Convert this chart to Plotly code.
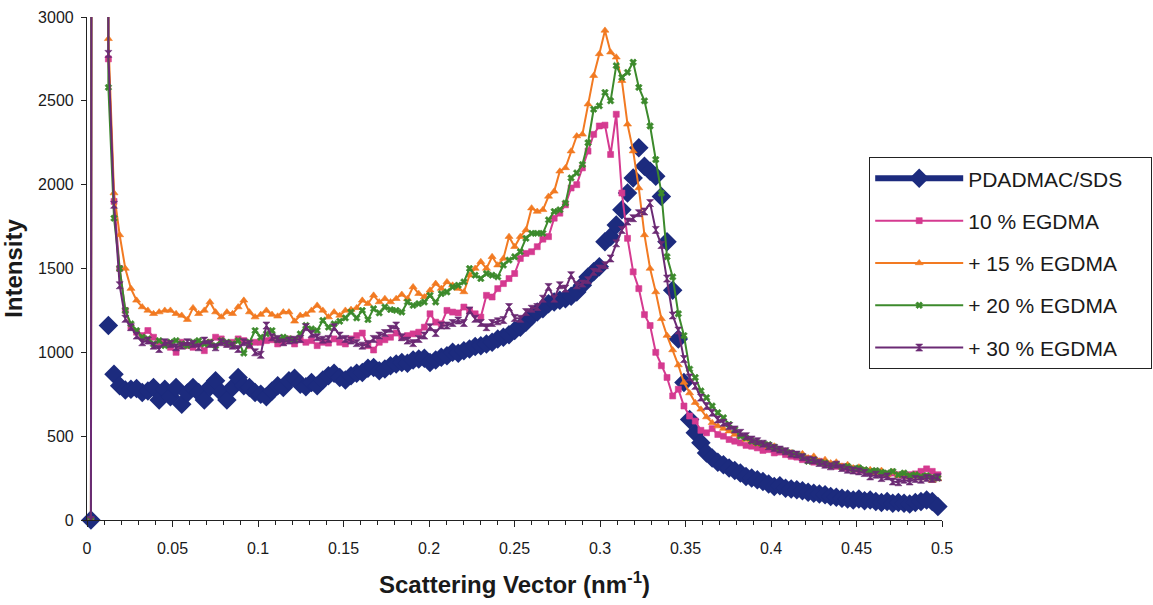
import plotly.graph_objects as go

# Scattering vector grid (nm^-1): first two off-scale points, then a regular grid
Q_LEAD = [0.0023, 0.0073]
Q_START = 0.0125
Q_STEP = 0.0033

BLUE = [
    1160, 870, 800, 775, 780, 785, 760, 770, 790, 715,
    780, 735, 790, 690, 757, 790, 760, 715, 793, 830,
    760, 715, 790, 850, 800, 790, 760, 750, 735, 770,
    800, 790, 830, 845, 810, 795, 820, 800, 835, 860,
    875, 850, 835, 860, 875, 880, 905, 910, 890, 900,
    920, 930, 940, 935, 955, 960, 965, 940, 955, 970,
    980, 1000, 995, 1010, 1020, 1035, 1040, 1050, 1060, 1080,
    1090, 1105, 1130, 1150, 1180, 1215, 1240, 1260, 1290, 1300,
    1310, 1320, 1335, 1360, 1400, 1450, 1480, 1510, 1660, 1690,
    1760, 1850, 1950, 2040, 2220, 2110, 2080, 2050, 1930, 1660,
    1370, 1080, 820, 600, 520, 460, 400, 370, 345, 330,
    310, 295, 280, 260, 250, 240, 230, 215, 200, 205,
    190, 185, 180, 175, 165, 160, 155, 150, 140, 135,
    130, 125, 120, 125, 115, 120, 110, 105, 110, 100,
    105, 100, 95, 105, 110, 120, 110, 80,
]
BLUE_LEAD = [0, None]

PINK = [
    2750, 1900, 1500, 1250, 1150, 1120, 1100, 1130, 1090, 1060,
    1050, 1030, 1000, 1060, 1040, 1030, 1050, 1010, 1060, 1090,
    1080, 1050, 1060, 1080, 1070, 1040, 1060, 1060, 1070, 1075,
    1050, 1060, 1080, 1050, 1075, 1060, 1070, 1040, 1060, 1055,
    1080, 1060, 1050, 1080, 1100, 1115, 1040, 1014, 1060, 1075,
    1090, 1115, 1090, 1100, 1110, 1120, 1150, 1230, 1180, 1170,
    1250, 1240, 1235, 1270, 1250, 1230, 1210, 1340, 1330, 1380,
    1410, 1440, 1470, 1560, 1590, 1600, 1630, 1675, 1690, 1800,
    1830, 1880, 1980, 2000, 2100, 2200, 2300, 2350, 2355, 2180,
    2420, 1950, 1680, 1480, 1380, 1225, 1160, 1000, 920, 850,
    740, 780, 680, 620, 590, 535, 520, 545, 510, 500,
    480, 470, 460, 445, 440, 430, 415, 420, 400, 405,
    390, 380, 375, 360, 365, 345, 350, 335, 330, 320,
    320, 310, 305, 300, 295, 285, 290, 280, 275, 280,
    270, 265, 270, 275, 290, 305, 290, 270,
]
ORANGE = [
    2870, 1950, 1700, 1500, 1380, 1310, 1270, 1250, 1230, 1240,
    1250, 1250, 1230, 1220, 1195, 1265, 1230, 1250, 1300, 1240,
    1210, 1240, 1230, 1270, 1310, 1240, 1210, 1225, 1250, 1225,
    1215, 1240, 1240, 1185, 1220, 1225, 1250, 1280, 1250, 1210,
    1240, 1220, 1250, 1255, 1265, 1310, 1290, 1340, 1300, 1320,
    1300, 1320, 1345, 1320, 1390, 1350, 1330, 1370, 1410, 1380,
    1420, 1400, 1380, 1360, 1460, 1500, 1540, 1500, 1570, 1520,
    1560, 1690, 1630, 1690, 1730, 1860, 1840, 1850, 1930, 1960,
    2080, 2100, 2200, 2290, 2300, 2480, 2650, 2780, 2920, 2790,
    2760, 2620, 2360, 2200, 1980, 1700, 1500, 1360, 1200, 1100,
    1014, 924, 820, 757, 700, 660, 614, 580, 560, 545,
    530, 510, 500, 480, 470, 455, 450, 435, 440, 420,
    410, 400, 390, 395, 370, 380, 350, 360, 340, 345,
    320, 330, 310, 315, 295, 300, 280, 295, 270, 285,
    265, 275, 255, 265, 250, 260, 235, 245,
]
GREEN = [
    2580, 1800, 1500, 1250, 1170, 1130, 1090, 1080, 1050, 1070,
    1040, 1060, 1070, 1050, 1040, 1060, 1070, 1050, 1060, 1040,
    1070, 1060, 1050, 1070, 995, 1060, 1130, 1090, 1110, 1130,
    1075, 1090, 1080, 1075, 1110, 1160, 1140, 1130, 1190, 1150,
    1170, 1185, 1205, 1240, 1205, 1250, 1195, 1260, 1235, 1270,
    1255, 1250, 1240, 1300, 1280, 1290, 1300, 1340, 1300, 1350,
    1360, 1390, 1400, 1420, 1500, 1460, 1440, 1470, 1460, 1450,
    1520, 1550, 1570, 1600, 1680, 1710, 1710, 1710, 1790, 1840,
    1850, 1890, 2040, 2070, 2120, 2250, 2450, 2470, 2550, 2500,
    2710, 2640, 2670, 2730, 2580, 2500, 2350, 2150, 1950, 1570,
    1450, 1230, 1100, 900, 850, 770, 730, 680, 640, 610,
    570, 540, 500, 490, 470, 460, 455, 450, 435, 420,
    410, 400, 390, 380, 350, 360, 345, 340, 325, 330,
    315, 320, 305, 310, 300, 290, 295, 285, 280, 290,
    270, 280, 265, 270, 260, 265, 255, 250,
]
PURPLE = [
    2780, 1880, 1400, 1200, 1150, 1100, 1060, 1070, 1040, 1020,
    1060, 1050, 1030, 1040, 1060, 1050, 1030, 1070, 1050, 1030,
    1060, 1050, 1040, 1020, 1060, 1050, 1000, 985, 1160, 1090,
    1080, 1060, 1070, 1075, 1080, 1150, 1110, 1090, 1075, 1080,
    1150, 1100, 1080, 1070, 1055, 1040, 1050, 1080, 1100, 1115,
    1140, 1160, 1090, 1070, 1055, 1080, 1100, 1150, 1115, 1160,
    1160, 1175, 1190, 1175, 1250, 1200, 1175, 1150, 1175, 1185,
    1193, 1270, 1205, 1200, 1240, 1260, 1270, 1320, 1390, 1320,
    1400, 1380, 1460, 1400, 1410, 1430, 1480, 1500, 1520, 1560,
    1650, 1730, 1780, 1800, 1830, 1840, 1890, 1730, 1640, 1440,
    1220, 1130, 960, 850, 800, 730, 680, 640, 600, 580,
    560, 540, 520, 500, 480, 470, 455, 440, 430, 420,
    410, 395, 390, 375, 360, 355, 340, 330, 320, 330,
    310, 300, 295, 290, 280, 260, 270, 250, 260, 230,
    225, 240, 230, 245, 240, 250, 245, 255,
]
# first point at zero, second far above the axis top (off scale)
LEAD = [0, 60000]

NAMES = ["PDADMAC/SDS", "10 % EGDMA", "+ 15 % EGDMA", "+ 20 % EGDMA", "+ 30 % EGDMA"]
X_TICKS = [0, 0.05, 0.1, 0.15, 0.2, 0.25, 0.3, 0.35, 0.4, 0.45, 0.5]
X_TICK_TEXT = ["0", "0.05", "0.1", "0.15", "0.2", "0.25", "0.3", "0.35", "0.4", "0.45", "0.5"]
Y_TICKS = [0, 500, 1000, 1500, 2000, 2500, 3000]

Q = [round(Q_START + Q_STEP * i, 4) for i in range(len(BLUE))]
XQ = Q_LEAD + Q

BLUE_COL = "#1c2b7e"
fig = go.Figure()
# blue series: diamonds only in the plot area
fig.add_trace(go.Scatter(
    x=XQ, y=BLUE_LEAD + BLUE, name=NAMES[0], mode="markers",
    marker=dict(symbol="diamond", size=15, color=BLUE_COL),
    cliponaxis=False, legendgroup="a", showlegend=False,
))
# legend entry for the blue series (thick line with diamond, as in the reference legend)
fig.add_trace(go.Scatter(
    x=[None], y=[None], name=NAMES[0] + "\u00a0" * 4, mode="lines+markers",
    line=dict(color=BLUE_COL, width=6),
    marker=dict(symbol="diamond", size=15, color=BLUE_COL),
    legendgroup="a",
))
styles = [
    (PINK, NAMES[1], "#d53a90", "square", 6),
    (ORANGE, NAMES[2], "#f27a22", "triangle-up", 7),
    (GREEN, NAMES[3], "#3c8a2c", "x", 6),
    (PURPLE, NAMES[4], "#6b2a74", "hourglass", 7),
]
for k, (vals, name, col, sym, sz) in enumerate(styles):
    fig.add_trace(go.Scatter(
        x=XQ, y=LEAD + vals, name=name, mode="lines+markers",
        line=dict(color=col, width=2),
        marker=dict(symbol=sym, size=sz, color=col, line=dict(width=0.6, color=col)),
        legendgroup="g%d" % k,
    ))

axis_col = "#222222"
fig.update_layout(
    width=1153, height=605,
    margin=dict(l=87, r=211, t=17, b=85, autoexpand=False),
    paper_bgcolor="white", plot_bgcolor="white",
    font=dict(family="Liberation Sans, Arial, sans-serif", color="#1a1a1a"),
    showlegend=True,
    legend=dict(
        x=869 / 1153, y=1 - 157 / 605, xref="container", yref="container",
        xanchor="left", yanchor="top",
        bordercolor=axis_col, borderwidth=1.2, bgcolor="white",
        font=dict(size=21, color="#1a1a1a"),
        itemwidth=88, tracegroupgap=12, traceorder="grouped",
    ),
    xaxis=dict(
        range=[0, 0.5], tickvals=X_TICKS, ticktext=X_TICK_TEXT,
        showline=True, linecolor=axis_col, linewidth=1.2,
        ticks="outside", ticklen=6, tickcolor=axis_col, tickwidth=1,
        minor=dict(dtick=0.01, ticks="outside", ticklen=4, tickcolor=axis_col),
        showgrid=False, zeroline=False,
        tickfont=dict(size=16, color="#1a1a1a"),
        ticklabelstandoff=8,
        title=dict(text="<b>Scattering Vector (nm<sup>-1</sup>)</b>",
                   font=dict(size=24, color="#1a1a1a"), standoff=19),
        automargin=False,
    ),
    yaxis=dict(
        range=[0, 3000], tickvals=Y_TICKS,
        showline=True, linecolor=axis_col, linewidth=1.2,
        ticks="outside", ticklen=5, tickcolor=axis_col,
        showgrid=False, zeroline=False,
        tickfont=dict(size=16, color="#1a1a1a"),
        ticklabelstandoff=4,
        title=dict(text="<b>Intensity</b>", font=dict(size=24, color="#1a1a1a"), standoff=8),
        automargin=False,
    ),
)

fig.write_html("out.html")
